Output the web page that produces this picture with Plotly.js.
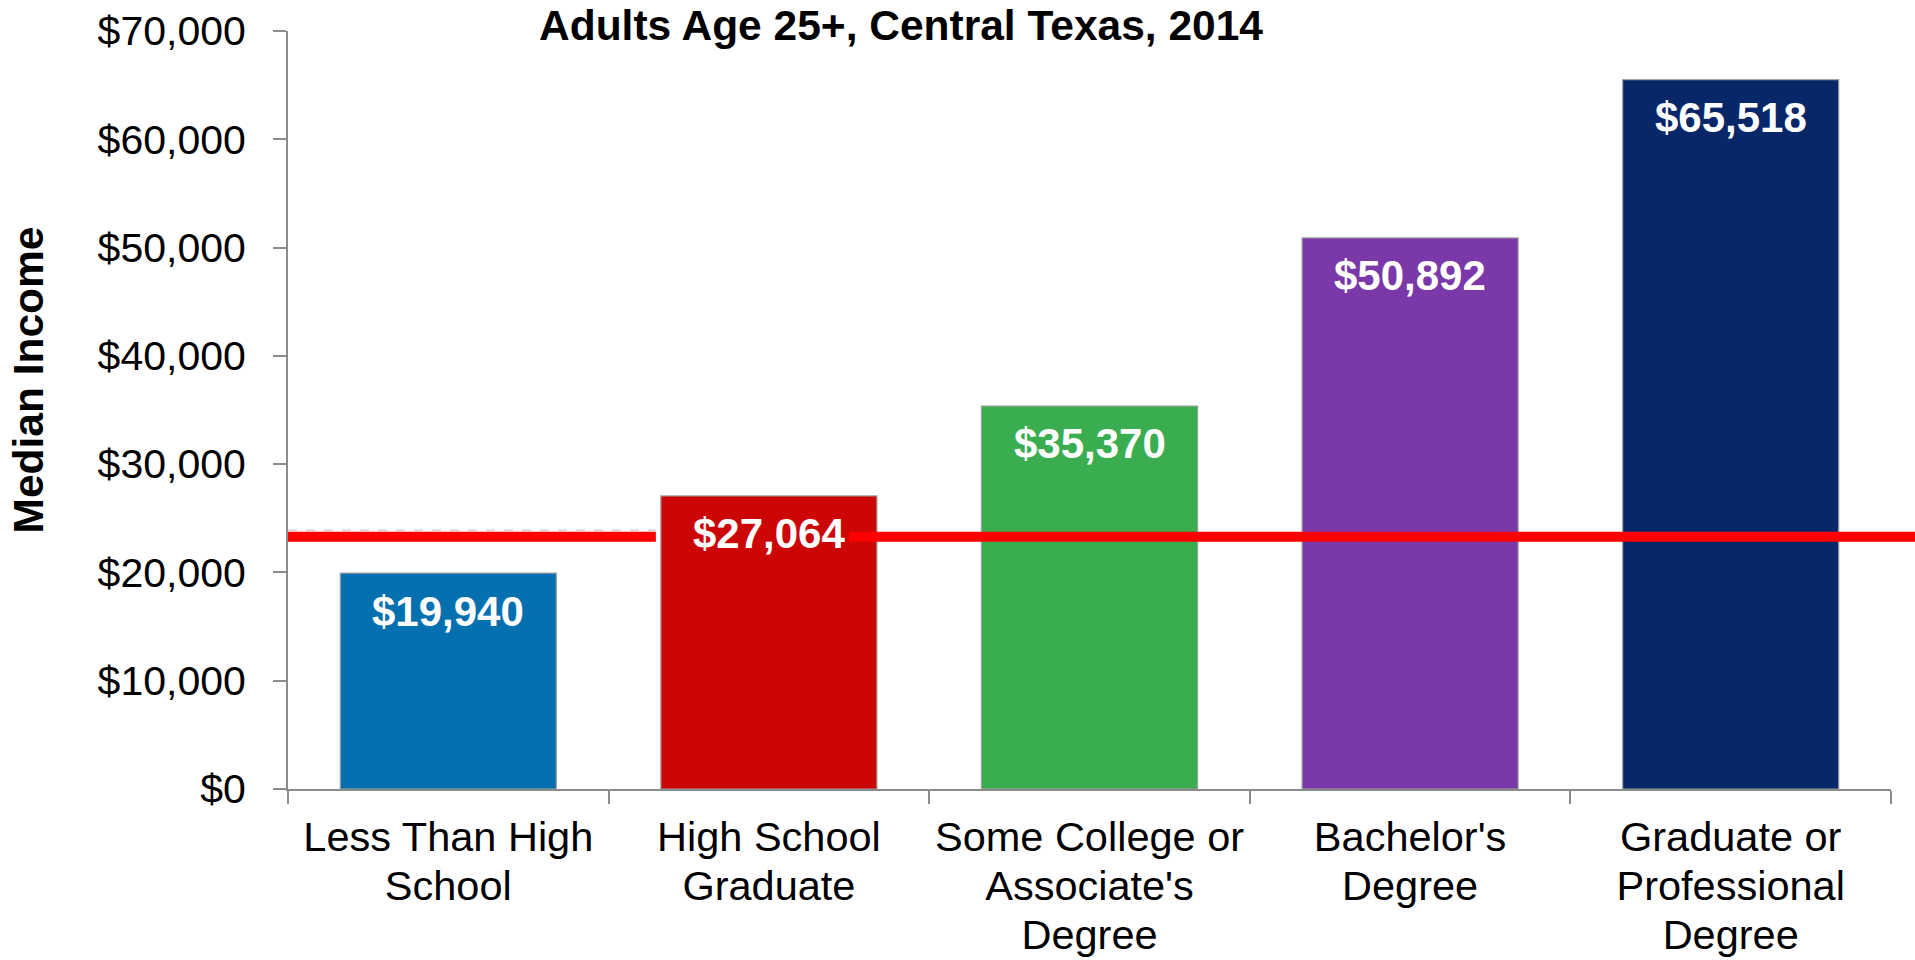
<!DOCTYPE html>
<html>
<head>
<meta charset="utf-8">
<script src="https://cdn.plot.ly/plotly-3.0.1.min.js"></script>
<style>
  html, body { margin: 0; padding: 0; background: #ffffff; }
  #chart { width: 1915px; height: 960px; }
</style>
</head>
<body>
<div id="chart"></div>
<script>
// ---- Data ----
const categories = [
  "Less Than High School",
  "High School Graduate",
  "Some College or Associate's Degree",
  "Bachelor's Degree",
  "Graduate or Professional Degree"
];
const tickLines = [
  ["Less Than High", "School"],
  ["High School", "Graduate"],
  ["Some College or", "Associate's", "Degree"],
  ["Bachelor's", "Degree"],
  ["Graduate or", "Professional", "Degree"]
];
const medianIncome = [19940, 27064, 35370, 50892, 65518];
const barColors = ["#0570b0", "#cc0605", "#39ad4f", "#7a38a8", "#072769"];
const yTickVals = [0, 10000, 20000, 30000, 40000, 50000, 60000, 70000];
const yTickText = ["$0", "$10,000", "$20,000", "$30,000", "$40,000", "$50,000", "$60,000", "$70,000"];
const referenceLine = [23300];
const dashedLine = [23900];

// ---- Layout helpers ----
const FONT = "Liberation Sans, Arial, Helvetica, sans-serif";
const W = 1915, H = 960;
const M = { l: 288, r: 24, t: 31, b: 171 };
const plotW = W - M.l - M.r;
const nCat = categories.length;
const bargap = 0.326;
const halfBar = (1 - bargap) / 2;
const toPaper = (xi) => (xi + 0.5) / nCat;
const labelIdx = 1; // label that interrupts the reference line

const fmt = v => "$" + v.toLocaleString("en-US");
const X_TICK_SIZE = 41.5;
const xTickText = tickLines.map(lines =>
  lines.map(l => '<span style="font-size:' + X_TICK_SIZE + 'px">' + l + '</span>').join("<br>"));

const trace = {
  type: "bar",
  x: categories,
  y: medianIncome,
  marker: { color: barColors, line: { color: "#a0a0a0", width: 1.2 } },
  hoverinfo: "skip",
  showlegend: false
};

const annotations = medianIncome.map((v, i) => ({
  x: categories[i], y: v, xref: "x", yref: "y",
  text: "<b>" + fmt(v) + "</b>",
  showarrow: false, yanchor: "middle", xanchor: "center", yshift: -38,
  font: { family: FONT, size: 42, color: "#ffffff" }
}));

annotations.push({
  xref: "paper", yref: "paper",
  x: (27.5 - M.l) / plotW, y: (H - M.b - 380) / (H - M.t - M.b),
  text: "<b>Median Income</b>", textangle: -90, showarrow: false,
  xanchor: "center", yanchor: "middle",
  font: { family: FONT, size: 42.5, color: "#000000" }
});

const seg1End = toPaper(labelIdx - halfBar) - 5 / plotW;
const seg2Start = toPaper(labelIdx) + 80 / plotW;

const shapes = [
  { type: "line", xref: "paper", yref: "y", x0: 0, x1: seg1End, y0: dashedLine[0], y1: dashedLine[0],
    line: { color: "#d9d9d9", width: 2, dash: "dash" }, layer: "above" },
  { type: "line", xref: "paper", yref: "y", x0: 0, x1: seg1End, y0: referenceLine[0], y1: referenceLine[0],
    line: { color: "#ff0000", width: 10 }, layer: "above" },
  { type: "line", xref: "paper", yref: "y", x0: seg2Start, x1: 1.03, y0: referenceLine[0], y1: referenceLine[0],
    line: { color: "#ff0000", width: 10 }, layer: "above" }
];

const layout = {
  width: W, height: H,
  margin: M,
  paper_bgcolor: "#ffffff", plot_bgcolor: "#ffffff",
  bargap: bargap,
  font: { family: FONT, color: "#000000" },
  title: {
    text: "<b>Adults Age 25+, Central Texas, 2014</b>",
    x: 901 / W, xanchor: "center", xref: "container",
    y: 1 - 25 / H, yanchor: "middle", yref: "container",
    font: { family: FONT, size: 42.5, color: "#000000" }
  },
  xaxis: {
    type: "category",
    range: [-0.5, nCat - 0.5],
    tickvals: categories, ticktext: xTickText,
    tickson: "boundaries",
    ticks: "outside", ticklen: 13, tickwidth: 2, tickcolor: "#8c8c8c",
    showline: true, linecolor: "#8c8c8c", linewidth: 2,
    showgrid: false, zeroline: false,
    ticklabelstandoff: 15,
    tickfont: { family: FONT, size: 37.7, color: "#000000" },
    fixedrange: true
  },
  yaxis: {
    range: [0, 70000],
    tickvals: yTickVals, ticktext: yTickText,
    ticks: "outside", ticklen: 13, tickwidth: 2, tickcolor: "#8c8c8c",
    showline: true, linecolor: "#8c8c8c", linewidth: 2,
    showgrid: false, zeroline: false,
    ticklabelstandoff: 19,
    tickfont: { family: FONT, size: 41, color: "#000000" },
    fixedrange: true
  },
  annotations: annotations,
  shapes: shapes
};

Plotly.newPlot("chart", [trace], layout, { displayModeBar: false, staticPlot: true });
</script>
</body>
</html>
